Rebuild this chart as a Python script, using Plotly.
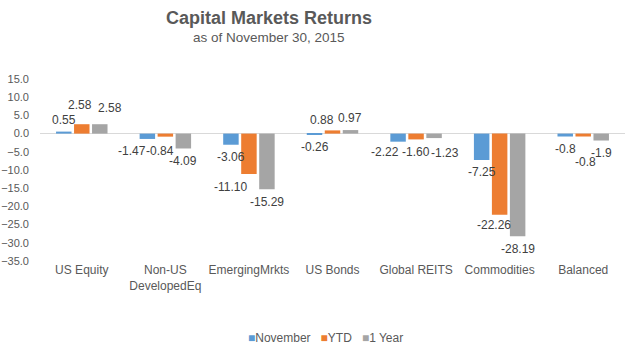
import plotly.graph_objects as go

categories = ["US Equity", "Non-US<br>DevelopedEq", "EmergingMrkts", "US Bonds",
              "Global REITS", "Commodities", "Balanced"]
november = [0.55, -1.47, -3.06, -0.26, -2.22, -7.25, -0.8]
ytd = [2.58, -0.84, -11.10, 0.88, -1.60, -22.26, -0.8]
one_year = [2.58, -4.09, -15.29, 0.97, -1.23, -28.19, -1.9]
label_fmt = ["{:.2f}"] * 6 + ["{:.1f}"]

series = [("November", november, "#5B9BD5"),
          ("YTD", ytd, "#ED7D31"),
          ("1 Year", one_year, "#A5A5A5")]

# layout / style
ML, MR, MT, MB = 40, 0, 79, 89
W = 625 - ML - MR
H = 350 - MT - MB
BARGAP, BARGROUPGAP = 0.354, 0.14
FONT = "Liberation Sans, Arial, sans-serif"
TXT = "#595959"

# per-label nudges (series index, category index) -> (dx, dy) in px, dy down-positive
nudges = {
    (1, 0): (-2, -7), (2, 0): (10, -4),
    (0, 1): (-15, 0), (1, 1): (-5, 2),
    (1, 2): (-18, 0),
    (1, 3): (-11, 2),
    (0, 4): (-13, -2), (2, 4): (11, 2),
    (1, 5): (-6, -2),
    (1, 6): (2, 13),
}

fig = go.Figure()
for name, vals, color in series:
    fig.add_trace(go.Bar(name=name, x=categories, y=vals, marker_color=color,
                         marker_line_width=0, showlegend=False))

percat = W / len(categories)
slot = (1 - BARGAP) * percat / 3
annotations = []
for si, (name, vals, color) in enumerate(series):
    off = (si - 1) * slot
    for ci, v in enumerate(vals):
        dx, dy = nudges.get((si, ci), (0, 0))
        base = -12 if v >= 0 else 12.5
        annotations.append(dict(
            x=categories[ci], y=v, xref="x", yref="y",
            text=label_fmt[ci].format(v), showarrow=False,
            xshift=off + dx, yshift=-(base + dy),
            font=dict(family=FONT, size=12, color="#404040"),
            xanchor="center", yanchor="middle"))

# subtitle
annotations.append(dict(
    x=(269 - ML) / W, y=(H + MT - 38) / H, xref="paper", yref="paper",
    text="as of November 30, 2015", showarrow=False,
    xanchor="center", yanchor="middle",
    font=dict(family=FONT, size=13.5, color=TXT)))

# legend (compact, Excel-like)
legend_text = "&nbsp;&nbsp;&nbsp;".join(
    f"<span style='color:{c}'>■</span>{n}" for n, _, c in series)
annotations.append(dict(
    x=(325 - ML) / W, y=(H + MT - 338) / H, xref="paper", yref="paper",
    text=legend_text, showarrow=False, xanchor="center", yanchor="middle",
    font=dict(family=FONT, size=12, color=TXT)))

fig.update_layout(
    width=625, height=350,
    margin=dict(l=ML, r=MR, t=MT, b=MB, pad=0),
    paper_bgcolor="white", plot_bgcolor="white",
    barmode="group", bargap=BARGAP, bargroupgap=BARGROUPGAP,
    font=dict(family=FONT, size=11, color=TXT),
    title=dict(
        text="<b>Capital Markets Returns</b>",
        font=dict(family=FONT, size=18, color=TXT),
        x=269 / 625, xref="container", xanchor="center",
        y=1 - 18 / 350, yref="container", yanchor="middle"),
    xaxis=dict(showgrid=False, showline=False, ticks="",
               tickfont=dict(family=FONT, size=12, color=TXT)),
    yaxis=dict(range=[-35, 15], tickmode="linear", tick0=-35, dtick=5,
               tickformat=".1f", showgrid=False, showline=False, ticks="",
               zeroline=True, zerolinecolor="#D9D9D9", zerolinewidth=1,
               ticklabelstandoff=10,
               tickfont=dict(family=FONT, size=11, color=TXT)),
    showlegend=False,
    annotations=annotations,
)

fig.write_html("out.html")
